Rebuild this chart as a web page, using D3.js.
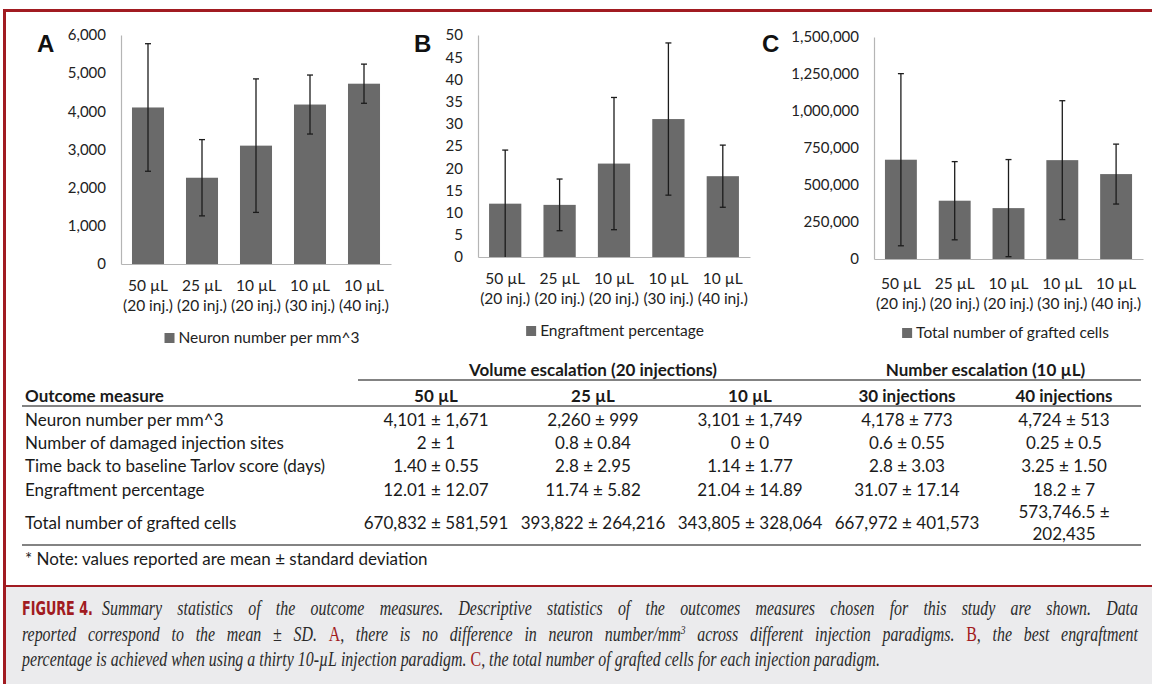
<!DOCTYPE html>
<html>
<head>
<meta charset="utf-8">
<script src="https://cdn.jsdelivr.net/npm/d3@7"></script>
<style>
  body { margin: 0; background: #fff; }
  svg { display: block; }
</style>
</head>
<body>
<svg id="fig" width="1152" height="684"></svg>
<script>
// ---- data ----
const categoryVolumes = ["50 µL", "25 µL", "10 µL", "10 µL", "10 µL"];
const categoryInjections = ["(20 inj.)", "(20 inj.)", "(20 inj.)", "(30 inj.)", "(40 inj.)"];

const neuronMean = [4101, 2260, 3101, 4178, 4724];
const neuronSD = [1671, 999, 1749, 773, 513];
const engraftMean = [12.01, 11.74, 21.04, 31.07, 18.2];
const engraftSD = [12.07, 5.82, 14.89, 17.14, 7];
const graftedMean = [670832, 393822, 343805, 667972, 573746.5];
const graftedSD = [581591, 264216, 328064, 401573, 202435];
const damagedMean = ["2", "0.8", "0", "0.6", "0.25"];
const damagedSD = ["1", "0.84", "0", "0.55", "0.5"];
const tarlovMean = ["1.40", "2.8", "1.14", "2.8", "3.25"];
const tarlovSD = ["0.55", "2.95", "1.77", "3.03", "1.50"];

const neuronTicks = [0, 1000, 2000, 3000, 4000, 5000, 6000];
const engraftTicks = [0, 5, 10, 15, 20, 25, 30, 35, 40, 45, 50];
const graftedTicks = [0, 250000, 500000, 750000, 1000000, 1250000, 1500000];

const groupHeaders = ["Volume escalation (20 injections)", "Number escalation (10 µL)"];
const groupColumns = [[0, 1, 2], [3, 4]];
const columnHeaders = ["50 µL", "25 µL", "10 µL", "30 injections", "40 injections"];
const rowLabels = [
  "Neuron number per mm^3",
  "Number of damaged injection sites",
  "Time back to baseline Tarlov score (days)",
  "Engraftment percentage",
  "Total number of grafted cells"
];

// ---- drawing ----
const svg = d3.select("#fig");
const RED = "#a11b21";
const SANS = "Lato, 'Open Sans', sans-serif";
const fmtComma = d3.format(",");

// frame
svg.append("rect").attr("x", 3).attr("y", 9).attr("width", 1149).attr("height", 3).attr("fill", RED);
svg.append("rect").attr("x", 3).attr("y", 9).attr("width", 3).attr("height", 675).attr("fill", RED);

const panels = [
  { letter: "A", mean: neuronMean, sd: neuronSD, ticks: neuronTicks, legend: "Neuron number per mm^3",
    left: 121, right: 391, top: 35, bottom: 264, letterX: 37, labelY: 22, legendShift: 6 },
  { letter: "B", mean: engraftMean, sd: engraftSD, ticks: engraftTicks, legend: "Engraftment percentage",
    left: 478, right: 750, top: 35, bottom: 257, letterX: 414, labelY: 22, legendShift: 1 },
  { letter: "C", mean: graftedMean, sd: graftedSD, ticks: graftedTicks, legend: "Total number of grafted cells",
    left: 874, right: 1143, top: 37, bottom: 259, letterX: 762, labelY: 25, legendShift: -3 }
];

panels.forEach(p => {
  const g = svg.append("g");
  const x = d3.scaleBand().domain(d3.range(categoryVolumes.length))
    .range([p.left, p.right]).paddingInner(0.407).paddingOuter(0.2035);
  const y = d3.scaleLinear().domain([0, d3.max(p.ticks)]).range([p.bottom, p.top]);

  // panel letter
  g.append("text").attr("x", p.letterX).attr("y", 52)
    .attr("font-family", "'Liberation Sans', Arial, sans-serif").attr("font-weight", "bold")
    .attr("font-size", 24).attr("fill", "#111").text(p.letter);

  // bars
  g.selectAll("rect.bar").data(p.mean).join("rect").attr("class", "bar")
    .attr("x", (d, i) => x(i)).attr("width", x.bandwidth())
    .attr("y", d => y(d)).attr("height", d => p.bottom - y(d))
    .attr("fill", "#6a6a6a");

  // y axis
  g.append("g").attr("transform", `translate(${p.left},0)`)
    .call(d3.axisLeft(y).tickValues(p.ticks).tickFormat(fmtComma).tickSize(0).tickPadding(15))
    .call(a => a.select(".domain").attr("stroke", "#b5b5b5").attr("stroke-width", 1.2))
    .call(a => a.selectAll("text").attr("font-family", SANS).attr("font-size", 15).attr("fill", "#222"));

  // x axis with two-line category labels
  const xa = g.append("g").attr("transform", `translate(0,${p.bottom})`)
    .call(d3.axisBottom(x).tickSize(0).tickFormat(""));
  xa.select(".domain").attr("stroke", "#b5b5b5").attr("stroke-width", 1.2);
  xa.selectAll(".tick text").remove();
  const lab = xa.selectAll(".tick").append("text")
    .attr("font-family", SANS).attr("font-size", 15.5).attr("fill", "#222")
    .attr("text-anchor", "middle");
  lab.append("tspan").attr("x", 0).attr("y", p.labelY).attr("dy", "0.35em").text(i => categoryVolumes[i]);
  lab.append("tspan").attr("x", 0).attr("y", p.labelY + 20).attr("dy", "0.35em").text(i => categoryInjections[i]);

  // error bars (clipped at the axis)
  const capW = 3;
  const eb = g.append("g").attr("stroke", "#1c1c1c").attr("stroke-width", 1.3);
  p.mean.forEach((m, i) => {
    const cx = x(i) + x.bandwidth() / 2;
    const lo = m - p.sd[i], hi = m + p.sd[i];
    const yLo = y(Math.max(0, lo)), yHi = y(hi);
    eb.append("line").attr("x1", cx).attr("x2", cx).attr("y1", yLo).attr("y2", yHi);
    eb.append("line").attr("x1", cx - capW).attr("x2", cx + capW).attr("y1", yHi).attr("y2", yHi);
    if (lo > 0) eb.append("line").attr("x1", cx - capW).attr("x2", cx + capW).attr("y1", yLo).attr("y2", yLo);
  });

  // legend
  const lg = g.append("g");
  const lt = lg.append("text").attr("x", 14).attr("y", 0).attr("dy", "0.35em")
    .attr("font-family", SANS).attr("font-size", 15.5).attr("fill", "#222").text(p.legend);
  const w = 14 + lt.node().getComputedTextLength();
  lg.append("rect").attr("x", 0).attr("y", -5).attr("width", 10).attr("height", 10).attr("fill", "#6a6a6a");
  lg.attr("transform", `translate(${(p.left + p.right) / 2 - w / 2 + p.legendShift},${p.bottom + 74})`);
});

// ---- summary table ----
const TFS = 17;
const table = svg.append("g").attr("font-family", SANS).attr("font-size", TFS).attr("fill", "#1a1a1a");
const tableLeft = 22, tableRight = 1141;
const col = d3.scalePoint().domain(d3.range(columnHeaders.length)).range([436, 1064]);
const rowY = [420, 443, 466, 490, 523];

const pm = (a, b) => `${a} ± ${b}`;
const cells = [
  neuronMean.map((m, i) => pm(fmtComma(m), fmtComma(neuronSD[i]))),
  damagedMean.map((m, i) => pm(m, damagedSD[i])),
  tarlovMean.map((m, i) => pm(m, tarlovSD[i])),
  engraftMean.map((m, i) => pm(m, engraftSD[i])),
  graftedMean.map((m, i) => pm(fmtComma(m), fmtComma(graftedSD[i])))
];

table.selectAll("text.group").data(groupHeaders).join("text").attr("class", "group")
  .attr("x", (d, i) => d3.mean(groupColumns[i], c => col(c))).attr("y", 370).attr("dy", "0.35em")
  .attr("text-anchor", "middle").attr("font-weight", "bold").text(d => d);

table.append("text").attr("x", 25).attr("y", 396).attr("dy", "0.35em")
  .attr("font-weight", "bold").text("Outcome measure");
table.selectAll("text.colhead").data(columnHeaders).join("text").attr("class", "colhead")
  .attr("x", (d, i) => col(i)).attr("y", 396).attr("dy", "0.35em")
  .attr("text-anchor", "middle").attr("font-weight", "bold").text(d => d);

rowLabels.forEach((r, ri) => {
  table.append("text").attr("x", 25).attr("y", rowY[ri]).attr("dy", "0.35em").text(r);
  cells[ri].forEach((c, ci) => {
    const cx = col(ci);
    const room = Math.min(col.step(), 2 * (tableRight - cx)) - 4;
    const t = table.append("text").attr("x", cx).attr("y", rowY[ri]).attr("dy", "0.35em")
      .attr("text-anchor", "middle").text(c);
    if (t.node().getComputedTextLength() > room) {
      const parts = c.split("± ");
      t.text(null);
      t.append("tspan").attr("x", cx).attr("y", rowY[ri] - 11).attr("dy", "0.35em").text(parts[0] + "±");
      t.append("tspan").attr("x", cx).attr("y", rowY[ri] + 11).attr("dy", "0.35em").text(parts[1]);
    }
  });
});

const rule = (x1, x2, yy) => table.append("line").attr("x1", x1).attr("x2", x2).attr("y1", yy).attr("y2", yy)
  .attr("stroke", "#5a5a5a").attr("stroke-width", 1.5);
rule(358, tableRight, 380);
rule(tableLeft, tableRight, 406);
rule(tableLeft, tableRight, 545);

table.append("text").attr("x", 25).attr("y", 559).attr("dy", "0.35em")
  .text("* Note: values reported are mean ± standard deviation");

// ---- caption ----
svg.append("rect").attr("x", 6).attr("y", 587).attr("width", 1146).attr("height", 97).attr("fill", "#ebebed");
svg.append("rect").attr("x", 3).attr("y", 585).attr("width", 1149).attr("height", 2).attr("fill", RED);

// condensed bold figure label, narrowed to its slot with a horizontal scale
const figLabel = svg.append("text").attr("x", 0).attr("y", 0)
  .attr("font-family", "'Liberation Sans Narrow', 'DejaVu Sans Condensed', 'Liberation Sans', sans-serif")
  .attr("font-weight", "bold").attr("font-size", 19).attr("fill", RED).text("FIGURE 4.");
const figW = figLabel.node().getComputedTextLength();
figLabel.attr("transform", `translate(22,615) scale(${71 / figW},1)`);

const CFS = 21;
const capG = svg.append("g").attr("font-family", "'Liberation Serif', 'DejaVu Serif', serif")
  .attr("font-size", CFS).attr("fill", "#2a2a2a");

// a caption line is a list of words; a word is a list of styled pieces
const W = s => [{ t: s }];
const words = str => str.split(" ").map(W);
const captionLines = [
  { y: 615, x0: 102, x1: 1138, justify: true,
    words: words("Summary statistics of the outcome measures. Descriptive statistics of the outcomes measures chosen for this study are shown. Data") },
  { y: 641, x0: 22, x1: 1138, justify: true,
    words: [].concat(
      words("reported correspond to the mean ± SD."),
      [[{ t: "A", red: true }, { t: "," }]],
      words("there is no difference in neuron"),
      [[{ t: "number/mm" }, { t: "3", sup: true }]],
      words("across different injection paradigms."),
      [[{ t: "B", red: true }, { t: "," }]],
      words("the best engraftment")) },
  { y: 666, x0: 22, x1: 880, justify: false,
    words: [].concat(
      words("percentage is achieved when using a thirty 10-µL injection paradigm."),
      [[{ t: "C", red: true }, { t: "," }]],
      words("the total number of grafted cells for each injection paradigm.")) }
];

function drawWord(parent, pieces) {
  const t = parent.append("text").attr("y", 0);
  pieces.forEach(pc => {
    const s = t.append("tspan").text(pc.t);
    if (pc.red) s.attr("fill", RED).attr("font-style", "normal");
    else s.attr("font-style", "italic");
    if (pc.sup) s.attr("font-size", CFS * 0.6).attr("baseline-shift", "super");
  });
  return t;
}

const spaceW = CFS * 0.25;
const lineGroups = captionLines.map(L => {
  const g = capG.append("g");
  const items = L.words.map(wd => {
    const t = drawWord(g, wd);
    return { t, w: t.node().getComputedTextLength() };
  });
  return { L, g, items, natural: d3.sum(items, d => d.w) + spaceW * (items.length - 1) };
});

// the unjustified last line sets the horizontal compression of the typeface
const last = lineGroups.find(d => !d.L.justify);
const k = (last.L.x1 - last.L.x0) / last.natural;

lineGroups.forEach(d => {
  const target = (d.L.x1 - d.L.x0) / k;
  const gap = d.L.justify
    ? (target - d3.sum(d.items, it => it.w)) / (d.items.length - 1)
    : spaceW;
  let cx = 0;
  d.items.forEach(it => { it.t.attr("x", cx); cx += it.w + gap; });
  d.g.attr("transform", `translate(${d.L.x0},${d.L.y}) scale(${k},1)`);
});
</script>
</body>
</html>
